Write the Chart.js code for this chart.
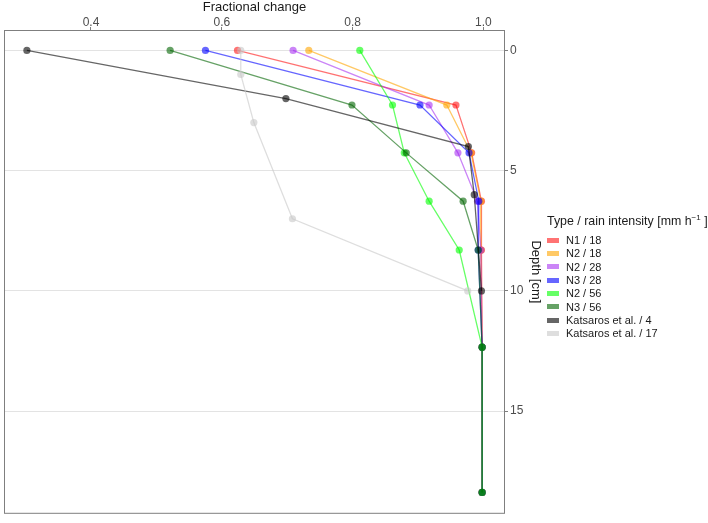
<!DOCTYPE html>
<html>
<head>
<meta charset="utf-8">
<script src="https://cdn.jsdelivr.net/npm/chart.js@4"></script>
<style>
  body { margin: 0; background: #fff; font-family: "Liberation Sans", Arial, sans-serif; }
  #wrap { position: relative; width: 708px; height: 523px; }
  #legend { position: absolute; left: 547px; top: 213px; color: #1a1a1a; }
  #legend .ttl { font-size: 12.4px; margin-bottom: 6px; white-space: nowrap; }
  #legend .row { height: 13.3px; font-size: 11px; line-height: 13.3px; white-space: nowrap; }
  #legend .key { display: inline-block; width: 12px; height: 5px; margin-right: 7px; vertical-align: middle; position: relative; top: -1px; }
</style>
</head>
<body>
<div id="wrap">
  <canvas id="depthChart" width="708" height="523"></canvas>
  <div id="legend"></div>
</div>
<script>
// depths [cm]
let depthN = [0, 2.27, 4.26, 6.27, 8.3, 12.34, 18.38];
let depthK4 = [0, 2, 4, 6, 10];
let depthK17 = [0, 1, 3, 7, 10];

// fractional change per series
let n1_18 = [0.624, 0.958, 0.982, 0.997, 0.997, 0.998, 0.998];
let n2_18 = [0.733, 0.944, 0.981, 0.996, 0.996, 0.998, 0.998];
let n2_28 = [0.709, 0.917, 0.961, 0.991, 0.996, 0.998, 0.998];
let n3_28 = [0.575, 0.903, 0.978, 0.993, 0.992, 0.998, 0.998];
let n2_56 = [0.811, 0.861, 0.879, 0.917, 0.963, 0.998, 0.998];
let n3_56 = [0.521, 0.799, 0.882, 0.969, 0.992, 0.998, 0.998];
let kats4 = [0.302, 0.698, 0.977, 0.986, 0.997];
let kats17 = [0.629, 0.629, 0.649, 0.708, 0.976];

let seriesNames = ['N1 / 18', 'N2 / 18', 'N2 / 28', 'N3 / 28', 'N2 / 56', 'N3 / 56', 'Katsaros et al. / 4', 'Katsaros et al. / 17'];
let seriesValues = [n1_18, n2_18, n2_28, n3_28, n2_56, n3_56, kats4, kats17];
let seriesDepths = [depthN, depthN, depthN, depthN, depthN, depthN, depthK4, depthK17];
let seriesColors = [
    'rgba(255, 0, 0, 0.55)',
    'rgba(255, 165, 0, 0.6)',
    'rgba(160, 32, 240, 0.55)',
    'rgba(0, 0, 255, 0.6)',
    'rgba(0, 255, 0, 0.6)',
    'rgba(0, 100, 0, 0.6)',
    'rgba(0, 0, 0, 0.6)',
    'rgba(200, 200, 200, 0.6)'
];

let xTicks = [0.4, 0.6, 0.8, 1.0];
let yTicks = [0, 5, 10, 15];

let datasets = seriesNames.map((name, i) => ({
    label: name,
    data: seriesValues[i].map((v, j) => ({ x: v, y: seriesDepths[i][j] })),
    showLine: true,
    borderColor: seriesColors[i],
    backgroundColor: seriesColors[i],
    borderWidth: 1.3,
    pointRadius: 3.6,
    pointBorderWidth: 0,
    order: -i
}));

// grey box round the panel
let boxPlugin = {
    id: 'box',
    afterDraw(chart) {
        let a = chart.chartArea, c = chart.ctx;
        c.save();
        c.strokeStyle = '#7f7f7f';
        c.lineWidth = 1;
        c.strokeRect(a.left + 0.5, a.top + 0.5, a.right - a.left - 1, a.bottom - a.top - 1);
        c.restore();
    }
};

let ctx = document.getElementById('depthChart').getContext('2d');
let depthChart = new Chart(ctx, {
    type: 'scatter',
    data: { datasets: datasets },
    options: {
        responsive: false,
        animation: false,
        layout: { padding: { left: 2, right: 165, top: 0, bottom: 3 } },
        plugins: { legend: { display: false }, tooltip: { enabled: false } },
        scales: {
            x: {
                position: 'top',
                min: 0.267,
                max: 1.033,
                afterBuildTicks: s => { s.ticks = xTicks.map(v => ({ value: v })); },
                afterFit: s => { s.height = 30; },
                ticks: {
                    callback: v => v.toFixed(1),
                    color: '#4d4d4d',
                    font: { family: 'Liberation Sans', size: 12 },
                    padding: -3,
                    maxRotation: 0
                },
                grid: { drawOnChartArea: false, drawTicks: true, tickLength: 3, tickColor: '#7f7f7f' },
                border: { display: false },
                title: { display: true, text: 'Fractional change', color: '#1a1a1a', font: { family: 'Liberation Sans', size: 13 }, padding: { top: 0, bottom: 0 } }
            },
            y: {
                position: 'right',
                reverse: true,
                min: -0.85,
                max: 19.27,
                afterBuildTicks: s => { s.ticks = yTicks.map(v => ({ value: v })); },
                afterFit: s => { s.width = 38; },
                ticks: {
                    color: '#4d4d4d',
                    font: { family: 'Liberation Sans', size: 12 },
                    padding: 2
                },
                grid: { color: '#e3e3e3', lineWidth: 1, drawTicks: true, tickLength: 3, tickColor: '#7f7f7f' },
                border: { display: false },
                title: { display: true, text: 'Depth [cm]', color: '#1a1a1a', font: { family: 'Liberation Sans', size: 13 }, padding: { top: 0, bottom: 0 } }
            }
        }
    },
    plugins: [boxPlugin]
});

// legend as html
let lg = document.getElementById('legend');
let html = '<div class="ttl">Type / rain intensity [mm h<sup style="font-size:8px">\u22121</sup> ]</div>';
seriesNames.forEach((name, i) => {
    html += '<div class="row"><span class="key" style="background:' + seriesColors[i] + '"></span>' + name + '</div>';
});
lg.innerHTML = html;
</script>
</body>
</html>
